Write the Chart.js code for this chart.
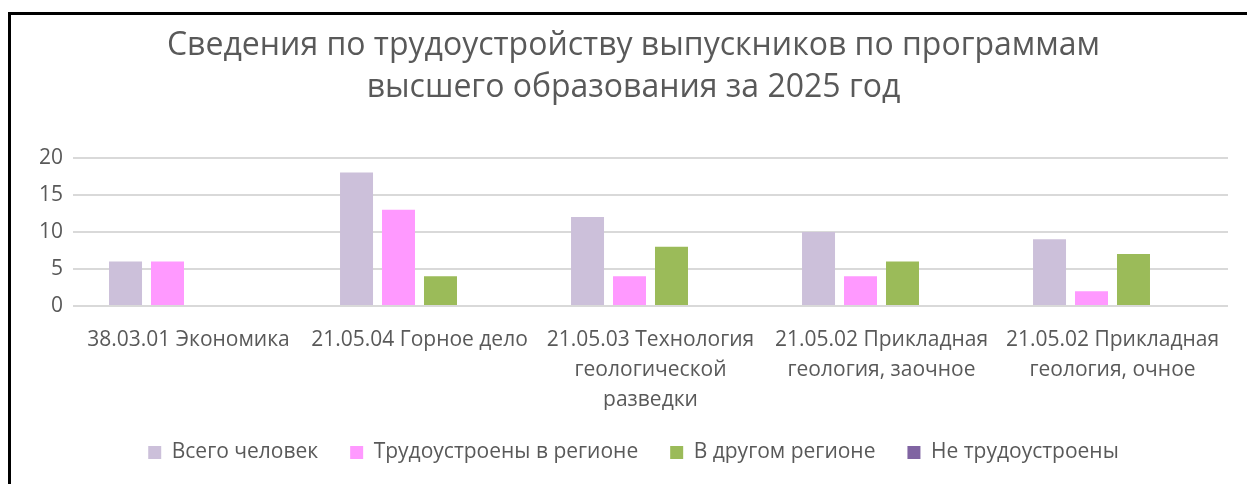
<!DOCTYPE html>
<html>
<head>
<meta charset="utf-8">
<script src="https://cdn.jsdelivr.net/npm/chart.js@4"></script>
<style>
  html, body { margin: 0; padding: 0; background: #fff; overflow: hidden; }
  #wrap { position: relative; width: 1247px; height: 484px; }
  #frame { position: absolute; left: 8px; top: 12px; width: 1300px; height: 520px;
           border-left: 3px solid #000; border-top: 3px solid #000; box-sizing: border-box; }
  canvas { position: absolute; left: 0; top: 0; }
</style>
</head>
<body>
<div id="wrap">
  <div id="frame"></div>
  <canvas id="chart" width="1247" height="484"></canvas>
</div>
<script>
// Данные
const categories = [
  '38.03.01 Экономика',
  '21.05.04 Горное дело',
  ['21.05.03 Технология', 'геологической', 'разведки'],
  ['21.05.02 Прикладная', 'геология, заочное'],
  ['21.05.02 Прикладная', 'геология, очное']
];
const seriesNames = ['Всего человек', 'Трудоустроены в регионе', 'В другом регионе', 'Не трудоустроены'];
const vsego = [6, 18, 12, 10, 9];
const vRegione = [6, 13, 4, 4, 2];
const vDrugom = [0, 4, 8, 6, 7];
const neTrud = [0, 0, 0, 0, 0];
const yTicks = [0, 5, 10, 15, 20];
const colors = ['#ccc0da', '#ff99ff', '#9bbb59', '#8064a2'];

const txt = '#595959';
const ctx = document.getElementById('chart').getContext('2d');

new Chart(ctx, {
  type: 'bar',
  data: {
    labels: categories,
    datasets: [vsego, vRegione, vDrugom, neTrud].map((d, i) => ({
      label: seriesNames[i],
      data: d,
      backgroundColor: colors[i],
      borderWidth: 0,
      categoryPercentage: 0.727,
      barPercentage: 0.786
    }))
  },
  options: {
    responsive: false,
    animation: false,
    layout: { padding: { left: 20, right: 0, top: 14, bottom: 11 } },
    plugins: {
      title: {
        display: true,
        text: ['Сведения по трудоустройству выпускников по программам', 'высшего образования за 2025 год'],
        color: txt,
        font: { family: 'Open Sans', size: 32, weight: 'normal', lineHeight: 1.34 },
        padding: { top: 10, bottom: 48 }
      },
      legend: {
        position: 'bottom',
        labels: {
          color: txt,
          font: { family: 'Open Sans', size: 21 },
          boxWidth: 13,
          boxHeight: 13,
          padding: 32
        }
      },
      tooltip: { enabled: false }
    },
    scales: {
      x: {
        grid: { display: false },
        border: { display: false },
        afterFit: s => { s.height = 104; },
        ticks: {
          color: txt,
          font: { family: 'Open Sans', size: 21, lineHeight: 1.43 },
          maxRotation: 0,
          autoSkip: false,
          padding: 11
        }
      },
      y: {
        min: 0,
        max: 20,
        afterBuildTicks: s => { s.ticks = yTicks.map(v => ({ value: v })); },
        afterFit: s => { s.width = 53; },
        grid: { color: '#d9d9d9', lineWidth: 2, drawTicks: false },
        border: { display: false },
        ticks: {
          color: txt,
          font: { family: 'Open Sans', size: 21 },
          padding: 10
        }
      },
      yRight: {
        type: 'linear',
        axis: 'y',
        position: 'right',
        display: true,
        grid: { display: false },
        border: { display: false },
        ticks: { display: false },
        afterFit: s => { s.width = 19; }
      }
    }
  }
});
</script>
</body>
</html>
